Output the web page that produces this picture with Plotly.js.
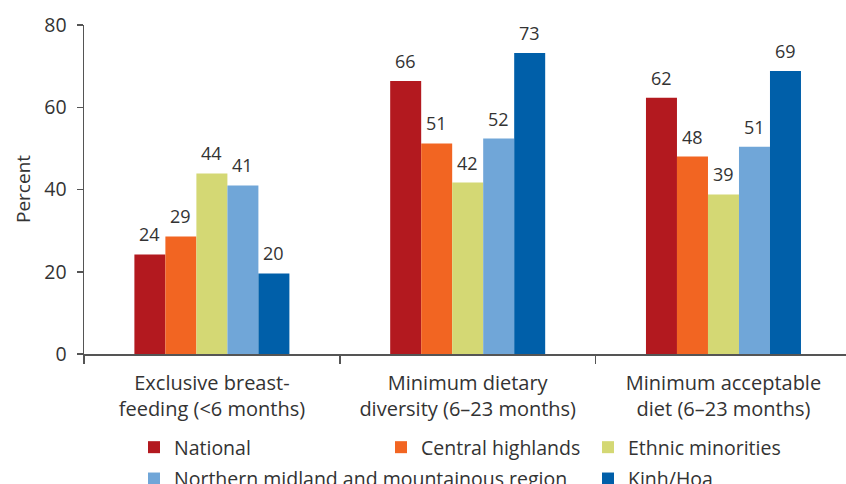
<!DOCTYPE html>
<html>
<head>
<meta charset="utf-8">
<script src="https://cdn.plot.ly/plotly-3.0.1.min.js"></script>
<style>html,body{margin:0;padding:0;background:#fff;}#chart{width:846px;height:484px;}</style>
</head>
<body>
<div id="chart"></div>
<script>
// ---- data ----
const categories = ["Exclusive breast-<br>feeding (<6 months)", "Minimum dietary<br>diversity (6–23 months)", "Minimum acceptable<br>diet (6–23 months)"];
const seriesNames = ["National", "Central highlands", "Ethnic minorities", "Northern midland and mountainous region", "Kinh/Hoa"];
const national   = [24.2, 66.4, 62.3];
const central    = [28.6, 51.2, 48.0];
const ethnic     = [43.9, 41.7, 38.8];
const northern   = [41.0, 52.4, 50.4];
const kinh       = [19.6, 73.2, 68.8];
const labelsNational = ["24", "66", "62"];
const labelsCentral  = ["29", "51", "48"];
const labelsEthnic   = ["44", "42", "39"];
const labelsNorthern = ["41", "52", "51"];
const labelsKinh     = ["20", "73", "69"];
const yTicks = [0, 20, 40, 60, 80];
const yTitle = "Percent";

// ---- styling ----
const colors = ["#b3191f", "#f26522", "#d4d874", "#70a6d8", "#005fa9"];
const legendOf = ["legend", "legend2", "legend3", "legend", "legend3"];
const FONT = "Open Sans, sans-serif";
const TXT = "#333333";
const AX = "#555555";
const bargap = 0.394;

const allValues = [national, central, ethnic, northern, kinh];
const allLabels = [labelsNational, labelsCentral, labelsEthnic, labelsNorthern, labelsKinh];
const xIdx = categories.map((c, i) => i);

const traces = allValues.map((vals, k) => ({
  type: "bar",
  name: seriesNames[k],
  x: xIdx,
  y: vals,
  marker: {color: colors[k]},
  legend: legendOf[k],
  legendgroup: "g" + k,
  hoverinfo: "skip"
}));

const nS = allValues.length;
const barW = (1 - bargap) / nS;
const annotations = [];
allValues.forEach((vals, k) => {
  vals.forEach((v, i) => {
    annotations.push({
      x: i + (k - (nS - 1) / 2) * barW,
      y: v,
      xref: "x", yref: "y",
      text: allLabels[k][i],
      showarrow: false,
      yanchor: "middle",
      yshift: 20,
      font: {family: FONT, size: 18, color: TXT}
    });
  });
});
// y-axis title
annotations.push({
  text: yTitle,
  xref: "paper", yref: "paper",
  x: (22.5 - 84) / 762, y: 0.5,
  xanchor: "center", yanchor: "middle",
  textangle: -90,
  showarrow: false,
  font: {family: FONT, size: 19, color: TXT}
});

const legendBase = {
  orientation: "v",
  xref: "container", yref: "container",
  xanchor: "left", yanchor: "top",
  y: 1 - 428 / 484,
  font: {family: FONT, size: 19.5, color: TXT},
  bgcolor: "rgba(0,0,0,0)",
  borderwidth: 0,
  traceorder: "grouped",
  tracegroupgap: 3
};

const layout = {
  width: 846, height: 484,
  margin: {l: 84, r: 0, t: 25, b: 130, autoexpand: false},
  paper_bgcolor: "#ffffff",
  plot_bgcolor: "#ffffff",
  barmode: "group",
  bargap: bargap,
  bargroupgap: 0,
  showlegend: true,
  font: {family: FONT, color: TXT},
  xaxis: {
    range: [-0.5, 2.479],
    tickmode: "array",
    tickvals: xIdx,
    ticktext: categories,
    ticks: "",
    ticklabelstandoff: 10,
    showline: true, linecolor: AX, linewidth: 1.5,
    showgrid: false, zeroline: false,
    tickfont: {family: FONT, size: 20, color: TXT},
    minor: {tickmode: "array", tickvals: [-0.5, 0.5, 1.5, 2.5], ticks: "outside", ticklen: 8, tickwidth: 1.5, tickcolor: AX, showgrid: false},
    automargin: false,
    fixedrange: true
  },
  yaxis: {
    range: [0, 80],
    tickmode: "array",
    tickvals: yTicks,
    ticks: "outside", ticklen: 6, tickwidth: 1.5, tickcolor: AX,
    ticklabelstandoff: 6,
    showline: true, linecolor: AX, linewidth: 1.5,
    showgrid: false, zeroline: false,
    tickfont: {family: FONT, size: 19.5, color: TXT},
    automargin: false,
    fixedrange: true
  },
  annotations: annotations,
  legend: Object.assign({}, legendBase, {x: 134 / 846}),
  legend2: Object.assign({}, legendBase, {x: 381 / 846}),
  legend3: Object.assign({}, legendBase, {x: 588 / 846})
};

Plotly.newPlot("chart", traces, layout, {displayModeBar: false, staticPlot: true});
</script>
</body>
</html>
